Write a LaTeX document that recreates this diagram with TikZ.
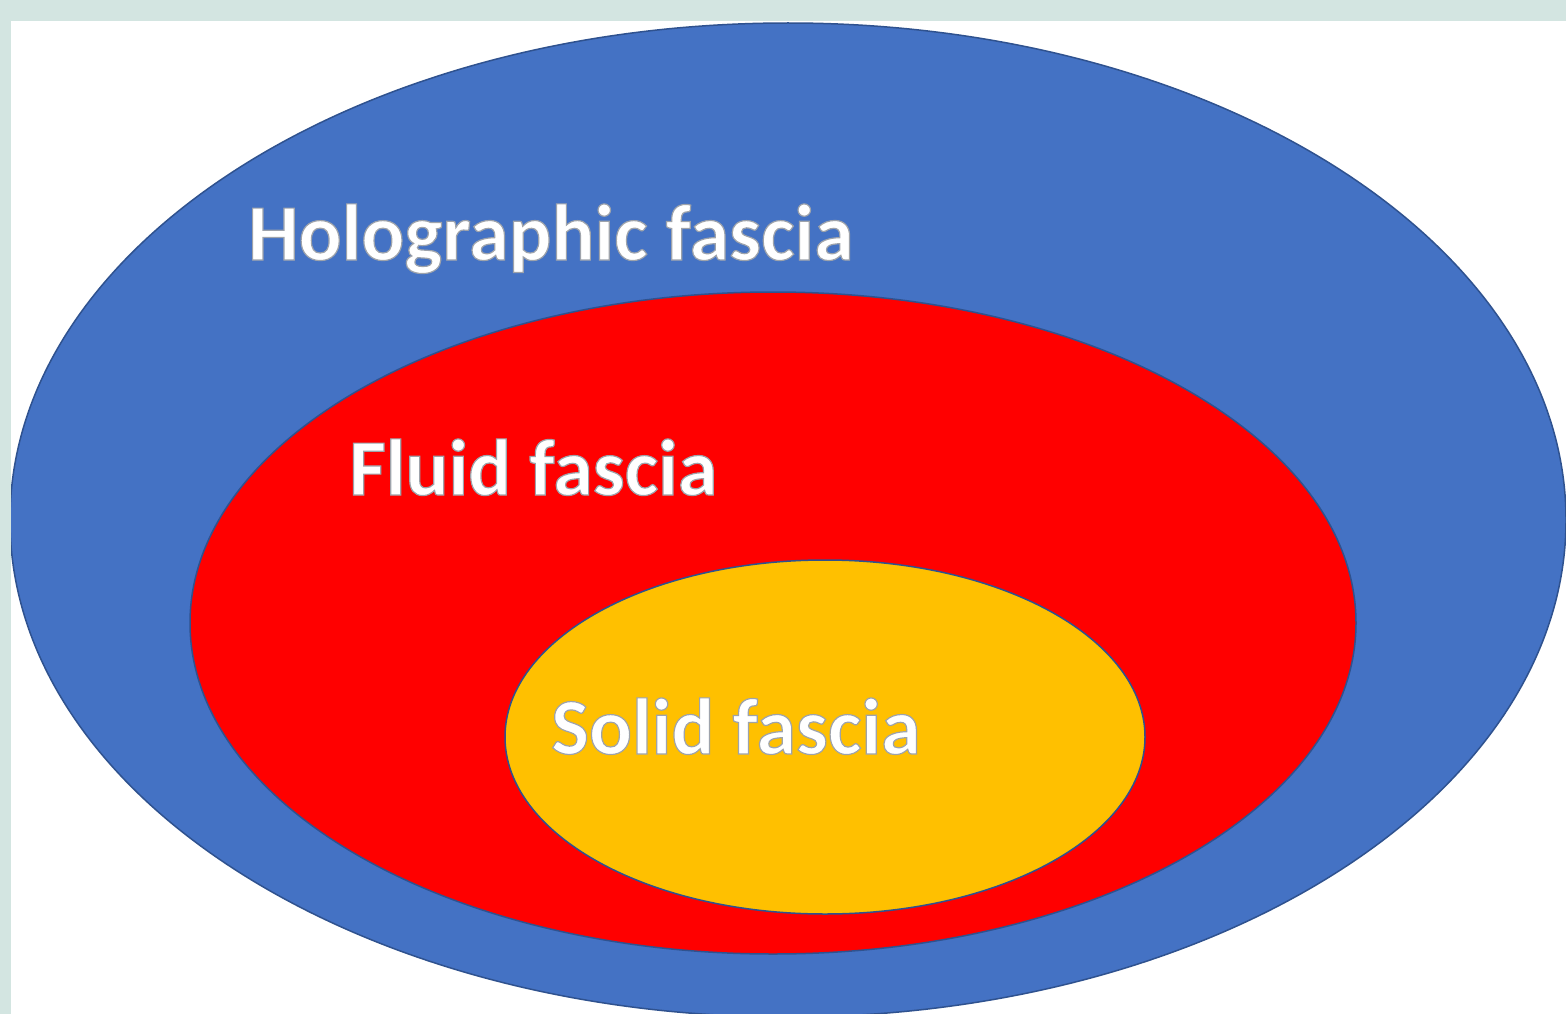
\documentclass[tikz,border=0pt]{standalone}
\usepackage{fontspec}
\setmainfont{Carlito}
\definecolor{bgteal}{HTML}{D3E5E1}
\definecolor{holoblue}{HTML}{4472C4}
\definecolor{edgeblue}{HTML}{2F528F}
\definecolor{fluidred}{HTML}{FF0000}
\definecolor{solidgold}{HTML}{FFC000}
\tikzset{
  layer/.style={draw=edgeblue, line width=1.5pt},
  lbl/.style={anchor=base west, inner sep=0pt, font=\fontsize{80}{80}\selectfont\bfseries, text=white},
}
\newcommand{\outlinedtext}[1]{%
  \special{pdf:literal direct 2 Tr 0.62 0.64 0.67 RG 1.2 w}#1\special{pdf:literal direct 0 Tr}}
\begin{document}
\begin{tikzpicture}[x=1pt,y=-1pt]
  \useasboundingbox (0,0) rectangle (1566,1014);
  \fill[bgteal] (0,0) rectangle (1566,1014);
  \fill[white] (11,21) rectangle (1566,1014);
  \begin{scope}
    \clip (11,21) rectangle (1566,1014);
    \path[layer, fill=holoblue] (788,520) ellipse [x radius=778, y radius=497];
  \end{scope}
  \path[layer, fill=fluidred] (773,623) ellipse [x radius=583, y radius=331];
  \path[layer, fill=solidgold] (825,737) ellipse [x radius=320, y radius=177];
  \node[lbl] (holo) at (248,260) {\outlinedtext{Holographic fascia}};
  \node[lbl] (fluid) at (349,495) {\outlinedtext{Fluid fascia}};
  \node[lbl] (solid) at (551,754) {\outlinedtext{Solid fascia}};
\end{tikzpicture}
\end{document}
